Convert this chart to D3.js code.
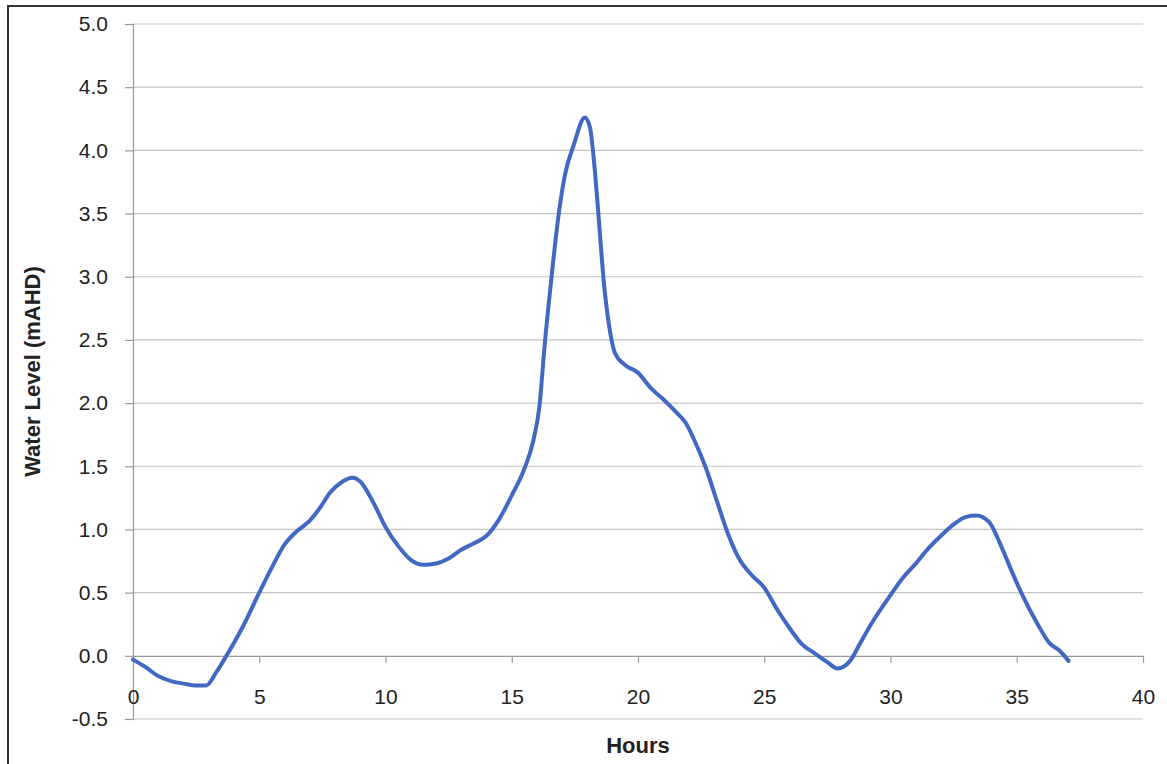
<!DOCTYPE html>
<html>
<head>
<meta charset="utf-8">
<script src="https://cdn.jsdelivr.net/npm/d3@7"></script>
<style>
  body { margin: 0; background: #fff; }
  text { font-family: "Liberation Sans", Arial, sans-serif; fill: #222; }
</style>
</head>
<body>
<div id="chart"></div>
<script>
// water level hydrograph

const hours = [0, 0.5, 1.0, 1.5, 2.0, 2.5, 2.9, 3.3, 3.7, 4.4, 5.0, 5.5, 6.0, 6.4, 7.0, 7.4, 7.8, 8.3, 8.7, 9.0,
    9.5, 10.0, 10.5, 11.0, 11.5, 12.0, 12.5, 13.0, 13.5, 14.0, 14.5, 15.0, 15.5, 15.85, 16.1, 16.3, 16.55, 16.85,
    17.1, 17.45, 17.9, 18.1, 18.3, 18.45, 18.65, 18.85, 19.1, 19.5, 20.0, 20.5, 21.0, 21.5, 21.9, 22.2, 22.7,
    23.1, 23.5, 24.0, 24.5, 25.0, 25.5, 26.0, 26.5, 27.0, 27.5, 27.9, 28.4, 28.8, 29.2, 30.0, 30.5, 31.0, 31.5,
    32.0, 32.5, 33.0, 33.4, 33.9, 34.4, 34.8, 35.2, 35.8, 36.3, 36.7, 37.05];
const waterLevel = [-0.03, -0.09, -0.16, -0.20, -0.22, -0.235, -0.235, -0.13, 0.0, 0.25, 0.50, 0.70, 0.88, 0.97,
    1.07, 1.17, 1.29, 1.38, 1.41, 1.38, 1.22, 1.02, 0.87, 0.76, 0.72, 0.73, 0.77, 0.84, 0.89, 0.95, 1.08, 1.27,
    1.48, 1.70, 1.98, 2.45, 2.95, 3.48, 3.80, 4.04, 4.26, 4.18, 3.82, 3.45, 2.95, 2.62, 2.39, 2.30, 2.24, 2.12,
    2.03, 1.93, 1.84, 1.72, 1.48, 1.24, 1.00, 0.77, 0.64, 0.54, 0.37, 0.22, 0.09, 0.02, -0.05, -0.10, -0.04,
    0.10, 0.24, 0.48, 0.62, 0.73, 0.85, 0.95, 1.04, 1.10, 1.11, 1.06, 0.86, 0.67, 0.49, 0.26, 0.10, 0.04, -0.04];
const yTicks = [-0.5, 0, 0.5, 1, 1.5, 2, 2.5, 3, 3.5, 4, 4.5, 5];
const xTicks = [0, 5, 10, 15, 20, 25, 30, 35, 40];

const width = 1167, height = 764;
const margin = { left: 133, right: 24, top: 24, bottom: 45 };

const svg = d3.select("#chart").append("svg")
    .attr("width", width).attr("height", height);

const x = d3.scaleLinear().domain([0, 40]).range([margin.left, width - margin.right]);
const y = d3.scaleLinear().domain([-0.5, 5]).range([height - margin.bottom, margin.top]);

// outer frame (only left + top visible in the scan)
svg.append("path")
    .attr("d", "M8,770 L8,6 L1167,6")
    .attr("fill", "none").attr("stroke", "#333").attr("stroke-width", 2);

// horizontal gridlines
svg.append("g")
    .selectAll("line")
    .data(yTicks.filter(d => d !== 0))
    .enter()
    .append("line")
    .attr("x1", x(0)).attr("x2", x(40))
    .attr("y1", d => y(d)).attr("y2", d => y(d))
    .attr("stroke", "#c4c4c4").attr("stroke-width", 1.2);

// y axis, plain hyphen for negatives like the original
const fmt = d => d.toFixed(1);
const yAxis = svg.append("g")
    .attr("transform", "translate(" + x(0) + ",0)")
    .call(d3.axisLeft(y).tickValues(yTicks).tickSize(8).tickPadding(17).tickFormat(fmt));
yAxis.selectAll("path, line").attr("stroke", "#999").attr("stroke-width", 1.2);
yAxis.selectAll("text").attr("font-size", 21).attr("font-family", "Liberation Sans, sans-serif").attr("fill", "#222");

// x axis sits on the 0.0 line
const xAxis = svg.append("g")
    .attr("transform", "translate(0," + y(0) + ")")
    .call(d3.axisBottom(x).tickValues(xTicks).tickSize(7).tickPadding(26).tickSizeOuter(0));
xAxis.selectAll("path, line").attr("stroke", "#999").attr("stroke-width", 1.2);
xAxis.selectAll("text").attr("font-size", 21).attr("font-family", "Liberation Sans, sans-serif").attr("fill", "#222");

// series
const data = hours.map((h, i) => [h, waterLevel[i]]);
svg.append("path")
    .datum(data)
    .attr("fill", "none")
    .attr("stroke", "#4169c4")
    .attr("stroke-width", 4)
    .attr("stroke-linejoin", "round")
    .attr("stroke-linecap", "round")
    .attr("d", d3.line().x(d => x(d[0])).y(d => y(d[1])).curve(d3.curveMonotoneX));

// axis titles
svg.append("text")
    .attr("x", x(20)).attr("y", 753)
    .attr("text-anchor", "middle")
    .attr("font-size", 22).attr("font-weight", "bold")
    .text("Hours");

svg.append("text")
    .attr("transform", "translate(40," + ((y(5) + y(-0.5)) / 2) + ") rotate(-90)")
    .attr("text-anchor", "middle")
    .attr("font-size", 22).attr("font-weight", "bold")
    .text("Water Level (mAHD)");
</script>
</body>
</html>
